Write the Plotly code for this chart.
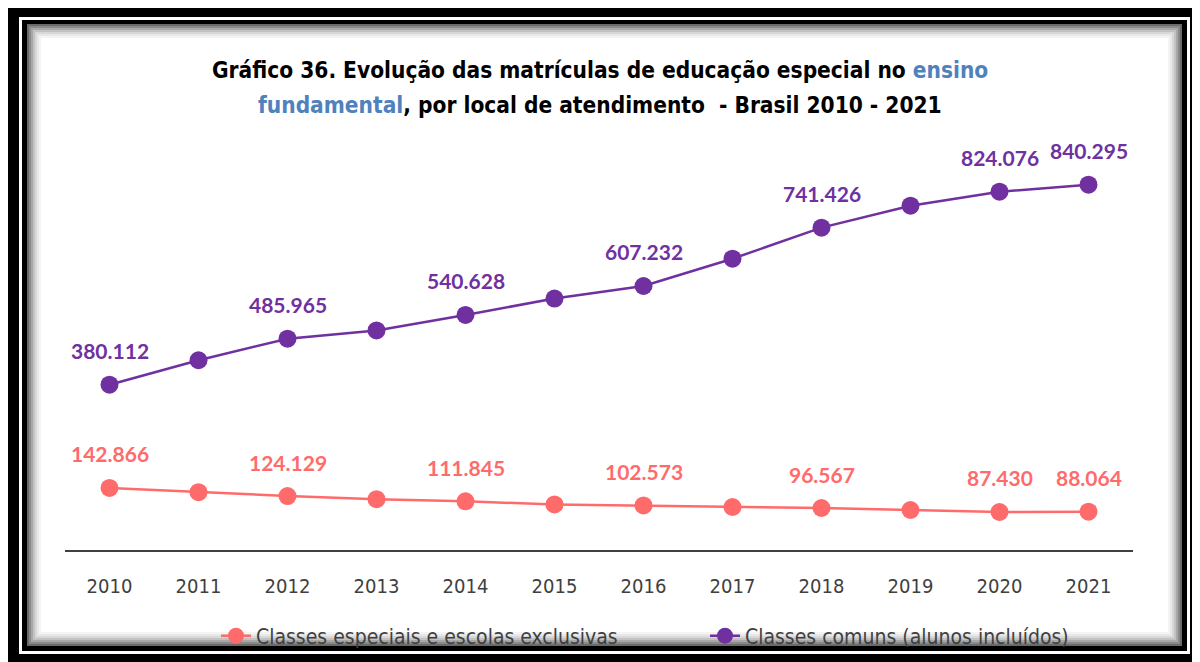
import plotly.graph_objects as go

years = ["2010", "2011", "2012", "2013", "2014", "2015", "2016", "2017", "2018", "2019", "2020", "2021"]
especiais = [142866, 133000, 124129, 117000, 111845, 104900, 102573, 98900, 96567, 92000, 87430, 88064]
comuns = [380112, 436400, 485965, 505000, 540628, 578300, 607232, 670000, 741426, 791900, 824076, 840295]
labeled_idx = [0, 2, 4, 6, 8, 10, 11]

name_esp = "Classes especiais e escolas exclusivas"
name_com = "Classes comuns (alunos incluídos)"
col_esp = "#FF6B6B"
col_com = "#7030A0"
title_l1 = "Gráfico 36. Evolução das matrículas de educação especial no <span style='color:#4F81BD'>ensino</span>"
title_l2 = "<span style='color:#4F81BD'>fundamental</span>, por local de atendimento  - Brasil 2010 - 2021"

NARROW = "Liberation Sans Narrow, Arial Narrow, DejaVu Sans Condensed, sans-serif"

# The page body has an 8px margin; layout positions are window pixels minus OFF.
OFF = 8
W, H = 1200, 662
ML = 65 - OFF
MR = W - (1133 - OFF)
MT = 150 - OFF
MB = H - (550 - OFF)
PW, PH = W - ML - MR, H - MT - MB


def px2paper(x, y):
    return (x - OFF - ML) / PW, (H - MB - (y - OFF)) / PH


def rect(x0, y0, x1, y1, color):
    a = px2paper(x0, y0)
    b = px2paper(x1, y1)
    return dict(type="rect", xref="paper", yref="paper", x0=a[0], y0=b[1], x1=b[0], y1=a[1],
                fillcolor=color, line=dict(width=0), layer="below")


shapes = [
    rect(8, 6, 1195, 662, "#000000"),
    rect(19, 17, 1190, 654, "#ffffff"),
    rect(22, 20, 1187, 651, "#000000"),
]
grays = ["#6a6a6a", "#8a8a8a", "#a8a8a8", "#c2c2c2", "#d8d8d8", "#e8e8e8", "#f4f4f4", "#ffffff"]
for k, g in enumerate(grays):
    d = 2 * k
    shapes.append(rect(27 + d, 24 + d, 1182 - d, 646 - d, g))

fig = go.Figure()
fig.add_trace(go.Scatter(x=years, y=especiais, mode="lines+markers", name=name_esp,
                         line=dict(color=col_esp, width=2.5),
                         marker=dict(color=col_esp, size=18), legend="legend"))
fig.add_trace(go.Scatter(x=years, y=comuns, mode="lines+markers", name=name_com,
                         line=dict(color=col_com, width=2.5),
                         marker=dict(color=col_com, size=18), legend="legend2"))


def fmt(v):
    return f"{v:,}".replace(",", ".")


for series, col in ((especiais, col_esp), (comuns, col_com)):
    for i in labeled_idx:
        fig.add_annotation(x=i, y=series[i], xref="x", yref="y",
                           text="<b>" + fmt(series[i]) + "</b>",
                           showarrow=False, yshift=34,
                           font=dict(family="Lato, Open Sans, sans-serif", size=21, color=col))

for txt, ypix in ((title_l1, 70), (title_l2, 105)):
    px, py = px2paper(600, ypix)
    fig.add_annotation(x=px, y=py, xref="paper", yref="paper", xanchor="center", yanchor="middle",
                       text="<b>" + txt + "</b>", showarrow=False,
                       font=dict(family=NARROW, size=22.5, color="#000000"))

leg_font = dict(family=NARROW, size=21, color="#404040")
fig.update_layout(
    width=W, height=H,
    margin=dict(l=ML, r=MR, t=MT, b=MB, autoexpand=False),
    paper_bgcolor="white", plot_bgcolor="rgba(0,0,0,0)",
    shapes=shapes,
    xaxis=dict(type="category", range=[-0.5, 11.5], showgrid=False, zeroline=False,
               showline=True, linecolor="#404040", linewidth=2, automargin=False,
               ticks="outside", ticklen=17, tickcolor="rgba(0,0,0,0)",
               tickfont=dict(family=NARROW, size=20, color="#404040")),
    yaxis=dict(range=[0, 920000], visible=False, showgrid=False, zeroline=False, automargin=False),
    legend=dict(orientation="h", x=px2paper(216, 0)[0], xanchor="left",
                y=px2paper(0, 636)[1], yanchor="middle",
                font=leg_font, bgcolor="rgba(0,0,0,0)"),
    legend2=dict(orientation="h", x=px2paper(705, 0)[0], xanchor="left",
                 y=px2paper(0, 636)[1], yanchor="middle",
                 font=leg_font, bgcolor="rgba(0,0,0,0)"),
    showlegend=True,
)
fig.write_html("out.html")
